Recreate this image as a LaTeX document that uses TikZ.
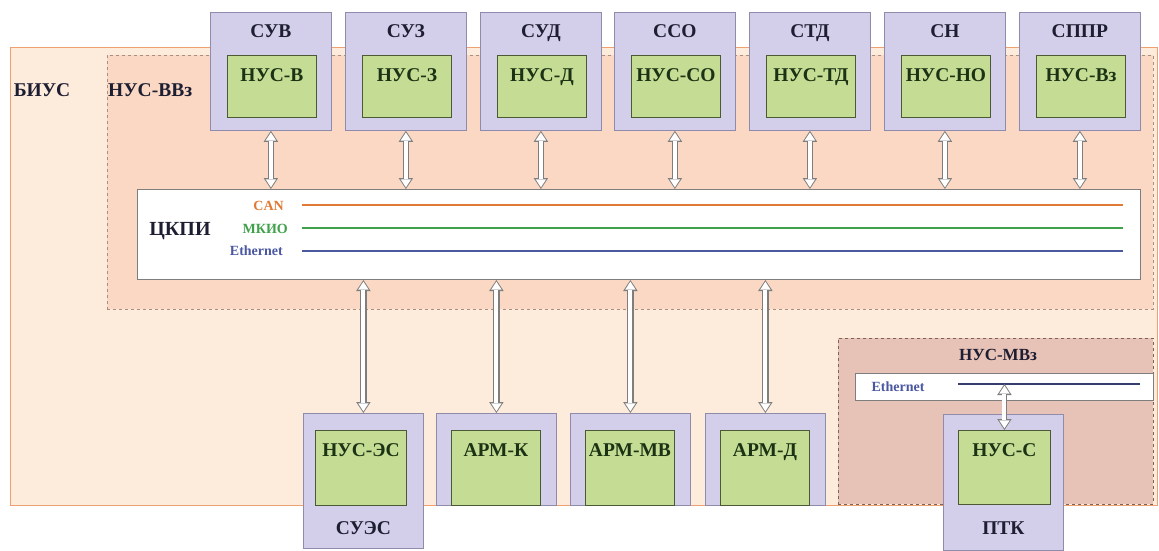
\documentclass[tikz,border=0pt]{standalone}
\usepackage{fontspec}
\setmainfont{Liberation Serif}
\usetikzlibrary{arrows.meta}
\definecolor{biusfill}{HTML}{FDEBDC}
\definecolor{biusbord}{HTML}{EFA071}
\definecolor{vvfill}{HTML}{FAD8C3}
\definecolor{vvbord}{HTML}{A89080}
\definecolor{mvfill}{HTML}{E7C2B6}
\definecolor{mvbord}{HTML}{7E6258}
\definecolor{lavfill}{HTML}{D3CFEA}
\definecolor{lavbord}{HTML}{8E8CAA}
\definecolor{grfill}{HTML}{C4DC94}
\definecolor{grbord}{HTML}{4B5A35}
\definecolor{labcol}{HTML}{1E1E33}
\definecolor{grtext}{HTML}{1C3214}
\definecolor{cancol}{HTML}{E07A36}
\definecolor{mkiocol}{HTML}{3FA24A}
\definecolor{ethcol}{HTML}{4A58A0}
\definecolor{arrbord}{HTML}{7E7E7E}
\begin{document}
\begin{tikzpicture}[x=1pt,y=-1pt,
  sysbox/.style={draw=lavbord, fill=lavfill, line width=0.8pt, minimum width=121pt, minimum height=118pt, anchor=north west, inner sep=0pt},
  greenbox/.style={draw=grbord, fill=grfill, line width=0.9pt, minimum width=89pt, minimum height=62pt, anchor=north west, inner sep=0pt},
  lab/.style={font=\bfseries\fontsize{19.5}{19.5}\selectfont, text=labcol, inner sep=0pt, text height=13pt, text depth=0pt},
  glab/.style={lab, text=grtext},
  small/.style={font=\bfseries\fontsize{14}{14}\selectfont, inner sep=0pt, text height=9.5pt, text depth=0pt},
  busline/.style={line width=1.6pt},
  blockarrow/.style={line width=6.4pt, draw=arrbord,
    {Triangle[length=11pt,width=14.5pt,line width=0pt]}-{Triangle[length=11pt,width=14.5pt,line width=0pt]},
    postaction={draw=white, line width=4pt, shorten <=1.7pt, shorten >=1.7pt,
    {Triangle[length=8pt,width=10.5pt,line width=0pt]}-{Triangle[length=8pt,width=10.5pt,line width=0pt]}}},
]
\useasboundingbox (0,0) rectangle (1159,551);
\fill[white] (0,0) rectangle (1159,551);

% outer BIUS
\node[draw=biusbord, fill=biusfill, line width=1pt, anchor=north west, minimum width=1147pt, minimum height=458pt, inner sep=0pt] (bius) at (10,47) {};
\node[lab] (biuslab) at (42,89.5) {БИУС};

% NUS-VVz
\node[draw=vvbord, fill=vvfill, dashed, line width=0.8pt, anchor=north west, minimum width=1046pt, minimum height=254pt, inner sep=0pt] (vv) at (107,55) {};
\node[lab, anchor=west] (vvlab) at (108,89.5) {НУС-ВВз};

% NUS-MVz
\node[draw=mvbord, fill=mvfill, dashed, line width=0.8pt, anchor=north west, minimum width=315pt, minimum height=166pt, inner sep=0pt] (mv) at (838,338) {};
\node[lab, font=\bfseries\fontsize{17}{17}\selectfont, text height=11.5pt] (mvlab) at (998,355) {НУС-МВз};
\node[draw=arrbord, fill=white, line width=0.6pt, anchor=north west, minimum width=298pt, minimum height=27pt, inner sep=0pt] (eth2) at (855,373) {};
\node[small, text=ethcol] (eth2lab) at (898,387) {Ethernet};
\coordinate (eth2a) at (958,384);
\coordinate (eth2b) at (1140,384);
\draw[ethcol!70!black, line width=1.2pt] (eth2a) -- (eth2b);

% CKPI
\node[draw=arrbord, fill=white, line width=1pt, anchor=north west, minimum width=1003pt, minimum height=90pt, inner sep=0pt] (ckpi) at (137,189) {};
\node[lab, font=\bfseries\fontsize{20}{20}\selectfont] (ckpilab) at (180,229) {ЦКПИ};
\node[small, text=cancol, anchor=east] (canlab) at (284,206) {CAN};
\node[small, text=mkiocol, anchor=east] (mkiolab) at (288,229) {МКИО};
\node[small, text=ethcol, anchor=east] (ethlab) at (283,251) {Ethernet};
\coordinate (cana) at (302,205); \coordinate (canb) at (1123,205);
\coordinate (mkioa) at (302,228); \coordinate (mkiob) at (1123,228);
\coordinate (etha) at (302,251); \coordinate (ethb) at (1123,251);
\draw[cancol, busline] (cana) -- (canb);
\draw[mkiocol, line width=2.6pt] (mkioa) -- (mkiob);
\draw[ethcol, busline] (etha) -- (ethb);

% top systems
\foreach \i/\x/\s/\n in {1/210/СУВ/НУС-В, 2/345/СУЗ/НУС-З, 3/480/СУД/НУС-Д, 4/614/ССО/НУС-СО, 5/749/СТД/НУС-ТД, 6/884/СН/НУС-НО, 7/1019/СППР/НУС-Вз}{
  \node[sysbox] (sys\i) at (\x,12) {};
  \node[lab] (syslab\i) at ([yshift=-19pt]sys\i.north) {\s};
  \node[greenbox] (nus\i) at (\x+17,55) {};
  \node[glab] (nuslab\i) at ([yshift=-20pt]nus\i.north) {\n};
  \draw[blockarrow] (sys\i.south) -- (sys\i.south |- ckpi.north);
}

% bottom: SUES
\node[sysbox, minimum width=120pt, minimum height=135pt] (sues) at (303,413) {};
\node[greenbox, minimum width=91pt, minimum height=75pt] (nuses) at (315,430) {};
\node[glab] (nuseslab) at ([yshift=-20pt]nuses.north) {НУС-ЭС};
\node[lab] (sueslab) at ([yshift=21pt]sues.south) {СУЭС};
\draw[blockarrow] (sues.north |- ckpi.south) -- (sues.north);

% ARM boxes
\foreach \i/\x/\n in {1/436/АРМ-К, 2/570/АРМ-МВ, 3/705/АРМ-Д}{
  \node[sysbox, minimum width=120pt, minimum height=92pt] (arm\i) at (\x,413) {};
  \node[greenbox, minimum width=89pt, minimum height=75pt] (armg\i) at (\x+15,430) {};
  \node[glab] (armlab\i) at ([yshift=-20pt]armg\i.north) {\n};
  \draw[blockarrow] (arm\i.north |- ckpi.south) -- (arm\i.north);
}

% PTK
\node[sysbox, minimum width=120pt, minimum height=136pt] (ptk) at (943,414) {};
\node[greenbox, minimum width=92pt, minimum height=74pt] (nusc) at (958,430) {};
\node[glab] (nusclab) at ([yshift=-20pt]nusc.north) {НУС-С};
\node[lab] (ptklab) at ([yshift=23pt]ptk.south) {ПТК};
\draw[blockarrow, line width=5pt] (nusc.north |- eth2a) -- (nusc.north);
\end{tikzpicture}
\end{document}
